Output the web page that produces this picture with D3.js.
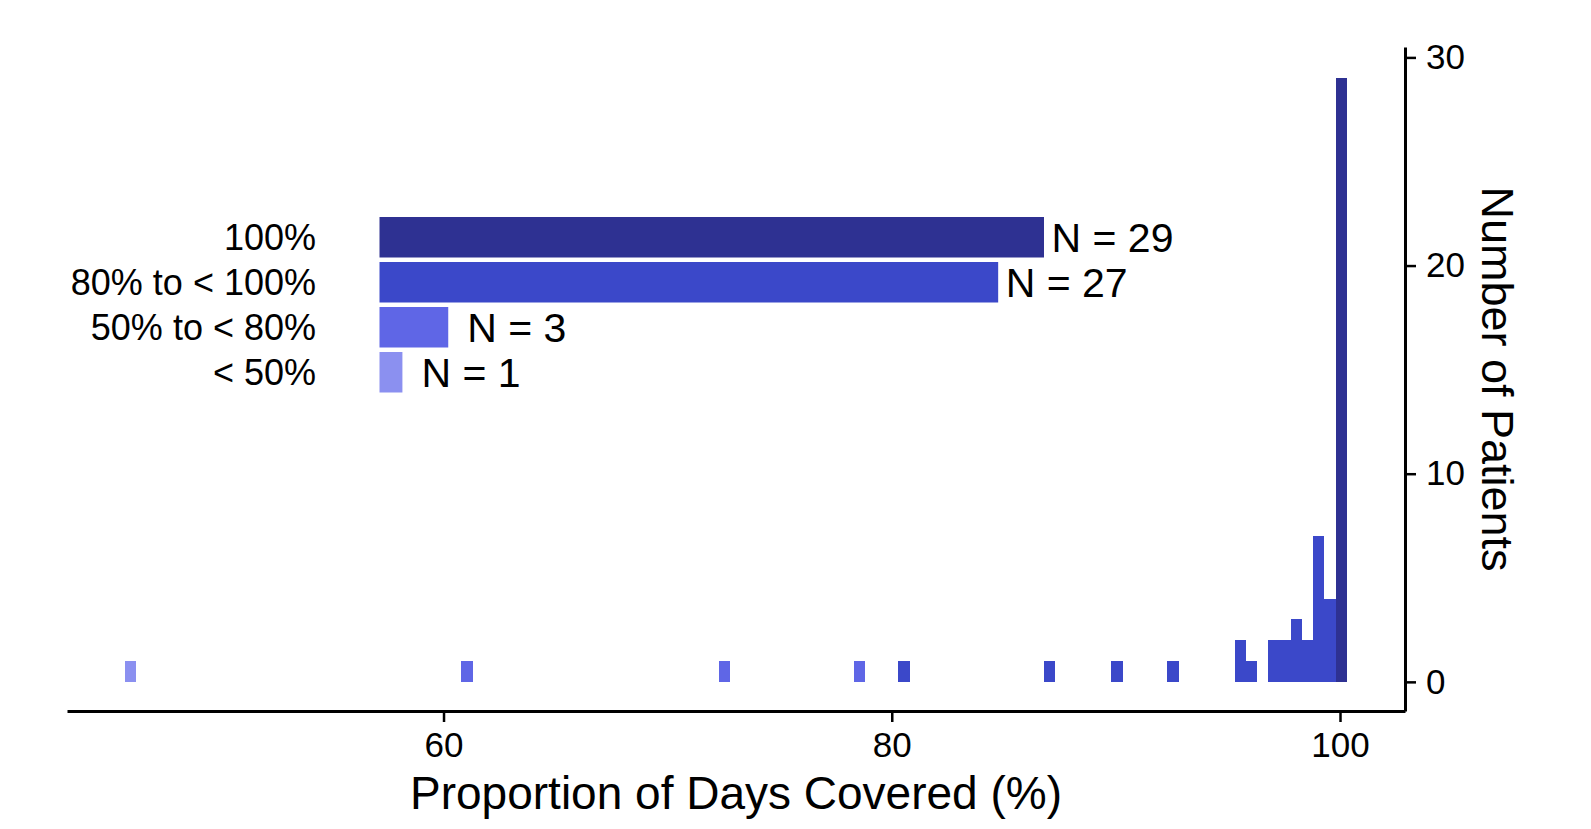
<!DOCTYPE html>
<html>
<head>
<meta charset="utf-8">
<script src="https://cdn.jsdelivr.net/npm/d3@7"></script>
<style>
  body { margin: 0; background: #fff; }
  svg text { font-family: "Liberation Sans", Arial, sans-serif; fill: #000; }
</style>
</head>
<body>
<div id="graph"></div>
<script>
const width = 1591;
const height = 829;

// histogram: bin centres (binwidth 0.5) and patient counts
const bin_centers = [46, 61, 72.5, 78.5, 80.5, 87, 90, 92.5, 95.5, 96, 97, 97.5, 98, 98.5, 99, 99.5, 100];
const bin_counts = [1, 1, 1, 1, 1, 1, 1, 1, 2, 1, 2, 2, 3, 2, 7, 4, 29];

// summary inset
const groups = ["100%", "80% to < 100%", "50% to < 80%", "< 50%"];
const group_counts = [29, 27, 3, 1];
const group_colors = ["#2e3192", "#3b48c9", "#5f66e6", "#8b90f0"];

const x_ticks = [60, 80, 100];
const y_ticks = [0, 10, 20, 30];

const bin_width = 0.5;

function group_of(v) {
  if (v >= 100) return 0;
  if (v >= 80) return 1;
  if (v >= 50) return 2;
  return 3;
}

const svg = d3.select('#graph')
  .append('svg')
  .attr('width', width)
  .attr('height', height);

const x = d3.scaleLinear().domain([43.2, 102.9]).range([67, 1405]);
const y = d3.scaleLinear().domain([-1.4, 30.5]).range([711, 47]);

// histogram bars (shifted a hair right like the original binning)
const hist = svg.append('g').attr('shape-rendering', 'crispEdges');
for (let i = 0; i < bin_centers.length; i++) {
  const c = bin_centers[i] + 0.05;
  hist.append('rect')
    .attr('x', x(c - bin_width / 2))
    .attr('width', x(c + bin_width / 2) - x(c - bin_width / 2))
    .attr('y', y(bin_counts[i]))
    .attr('height', y(0) - y(bin_counts[i]))
    .attr('fill', group_colors[group_of(bin_centers[i])]);
}

// x axis
const xAxis = svg.append('g')
  .attr('transform', `translate(0, ${y.range()[0]})`)
  .call(d3.axisBottom(x).tickValues(x_ticks).tickSize(11).tickPadding(10).tickSizeOuter(0));
xAxis.select('.domain').attr('stroke', '#000').attr('stroke-width', 3);
xAxis.selectAll('.tick line').attr('stroke', '#000').attr('stroke-width', 2.5);
xAxis.selectAll('.tick text').attr('font-size', 35).attr('fill', '#000')
  .attr('font-family', '"Liberation Sans", Arial, sans-serif');

// y axis on the right
const yAxis = svg.append('g')
  .attr('transform', `translate(${x.range()[1]}, 0)`)
  .call(d3.axisRight(y).tickValues(y_ticks).tickSize(11).tickPadding(10).tickSizeOuter(0));
yAxis.select('.domain').attr('stroke', '#000').attr('stroke-width', 3);
yAxis.selectAll('.tick line').attr('stroke', '#000').attr('stroke-width', 2.5);
yAxis.selectAll('.tick text').attr('font-size', 35).attr('fill', '#000')
  .attr('font-family', '"Liberation Sans", Arial, sans-serif');

// axis titles
svg.append('text')
  .attr('x', (x(102.9) + x(43.2)) / 2)
  .attr('y', 809)
  .attr('text-anchor', 'middle')
  .attr('font-size', 46)
  .text('Proportion of Days Covered (%)');

svg.append('text')
  .attr('transform', `translate(1482, ${(y(30.5) + y(-1.4)) / 2}) rotate(90)`)
  .attr('text-anchor', 'middle')
  .attr('font-size', 45)
  .text('Number of Patients');

// inset summary bars
const xi = d3.scaleLinear().domain([0, 29]).range([379.5, 1044]);
const yi = d3.scaleBand().domain(groups).range([214.75, 394.75]).paddingInner(0.1).paddingOuter(0.05);

groups.forEach((g, i) => {
  svg.append('rect')
    .attr('x', xi(0))
    .attr('y', yi(g))
    .attr('width', xi(group_counts[i]) - xi(0))
    .attr('height', yi.bandwidth())
    .attr('fill', group_colors[i]);

  svg.append('text')
    .attr('x', 316)
    .attr('y', yi(g) + yi.bandwidth() / 2)
    .attr('dy', '0.36em')
    .attr('text-anchor', 'end')
    .attr('font-size', 36)
    .text(g);

  svg.append('text')
    .attr('x', xi(group_counts[i]) + (group_counts[i] < 10 ? 19 : 7.5))
    .attr('y', yi(g) + yi.bandwidth() / 2)
    .attr('dy', '0.36em')
    .attr('font-size', 41)
    .text(`N = ${group_counts[i]}`);
});
</script>
</body>
</html>
